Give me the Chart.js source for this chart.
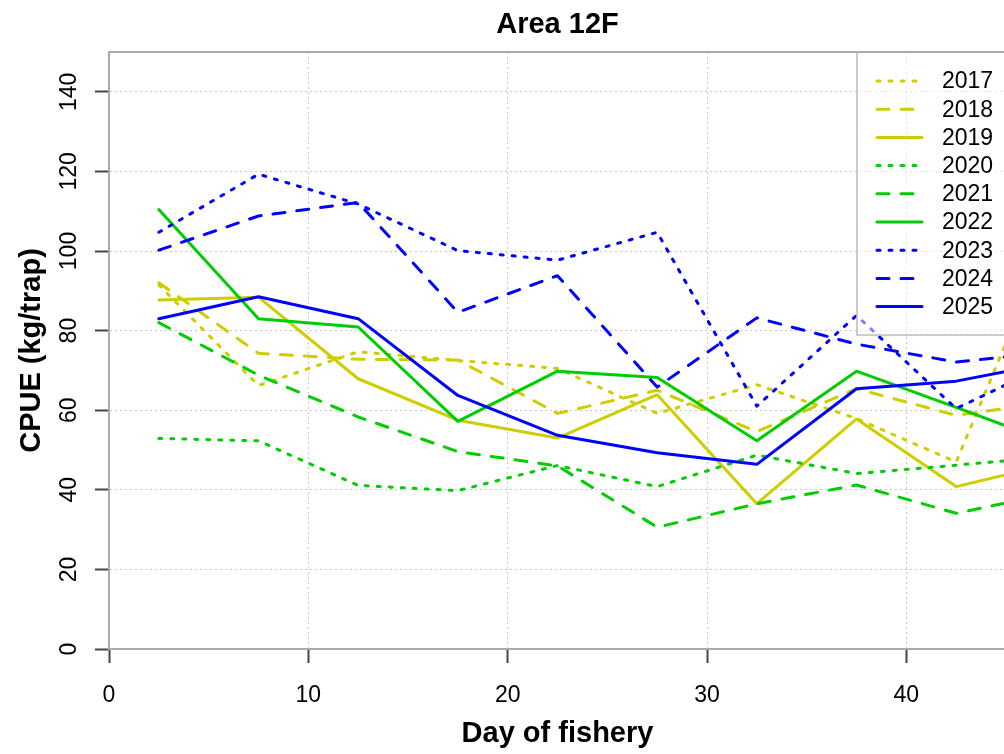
<!DOCTYPE html>
<html lang="en">
<head>
<meta charset="UTF-8">
<title>Area 12F</title>
<script src="https://cdn.jsdelivr.net/npm/chart.js"></script>
<style>
    body { margin: 0; background: #ffffff; overflow: hidden; }
    #wrap { width: 1010px; height: 754px; }
</style>
</head>
<body>
<div id="wrap"><canvas id="cpueChart" width="1010" height="754"></canvas></div>
<script>
// day of fishery (mid-point of each 5-day block)
const days = [2.5, 7.5, 12.5, 17.5, 22.5, 27.5, 32.5, 37.5, 42.5, 47.5];
const years = ['2017', '2018', '2019', '2020', '2021', '2022', '2023', '2024', '2025'];

// CPUE (kg/trap)
const cpue2017 = [91.5, 66.2, 74.7, 72.5, 70.5, 59.2, 66.4, 57.9, 47.0, 106.8];
const cpue2018 = [92.0, 74.3, 72.8, 72.6, 59.2, 65.0, 54.6, 65.4, 58.7, 62.2];
const cpue2019 = [87.7, 88.4, 67.9, 57.5, 53.0, 63.9, 36.5, 57.8, 40.8, 46.8];
const cpue2020 = [52.9, 52.3, 41.1, 39.8, 46.1, 40.8, 48.7, 44.1, 46.2, 48.4];
const cpue2021 = [82.0, 68.8, 58.3, 49.6, 46.0, 30.6, 36.5, 41.2, 34.1, 39.3];
const cpue2022 = [110.4, 83.0, 80.9, 57.2, 69.8, 68.2, 52.3, 69.8, 60.7, 51.4];
const cpue2023 = [104.7, 119.3, 111.8, 100.1, 97.7, 104.7, 61.0, 83.8, 60.4, 72.4];
const cpue2024 = [100.2, 108.8, 112.2, 84.6, 93.8, 65.8, 83.2, 76.6, 72.1, 74.7];
const cpue2025 = [83.0, 88.5, 83.0, 63.7, 53.7, 49.3, 46.4, 65.4, 67.3, 72.1];

const series = [cpue2017, cpue2018, cpue2019, cpue2020, cpue2021, cpue2022, cpue2023, cpue2024, cpue2025];
const lineColors = ['#CDCD00', '#CDCD00', '#CDCD00', '#00CD00', '#00CD00', '#00CD00', '#0000FF', '#0000FF', '#0000FF'];
const lineDashes = [[3, 9], [12, 12], [], [3, 9], [12, 12], [], [3, 9], [12, 12], []];

const xTicks = [0, 10, 20, 30, 40];
const yTicks = [0, 20, 40, 60, 80, 100, 120, 140];

const FONT = '"Liberation Sans", Arial, Helvetica, sans-serif';

const datasets = years.map((yr, i) => ({
    label: yr,
    data: days.map((d, j) => ({ x: d, y: series[i][j] })),
    borderColor: lineColors[i],
    borderWidth: 3,
    borderDash: lineDashes[i],
    borderCapStyle: 'round',
    borderJoinStyle: 'round',
    pointRadius: 0,
    tension: 0,
    fill: false,
    order: years.length - 1 - i
}));

// legend, plot box, tick labels and titles drawn the way base R does it
const decor = {
    id: 'decor',
    afterDatasetsDraw(chart) {
        const { ctx, chartArea: a } = chart;
        // legend box (top right, half transparent)
        const lx = 857, lBottom = 335;
        ctx.save();
        ctx.fillStyle = 'rgba(255,255,255,0.5)';
        ctx.fillRect(lx, a.top, a.right - lx, lBottom - a.top);
        ctx.strokeStyle = '#bbbbbb';
        ctx.lineWidth = 1.5;
        ctx.strokeRect(lx, a.top, a.right - lx, lBottom - a.top);
        ctx.font = '23px ' + FONT;
        ctx.textAlign = 'left';
        ctx.textBaseline = 'middle';
        chart.data.datasets.forEach((ds, i) => {
            const ry = a.top + 29 + i * 28.2;
            ctx.beginPath();
            ctx.strokeStyle = ds.borderColor;
            ctx.lineWidth = 3;
            ctx.lineCap = 'round';
            ctx.setLineDash(ds.borderDash);
            ctx.moveTo(lx + 20, ry);
            ctx.lineTo(lx + 65, ry);
            ctx.stroke();
            ctx.setLineDash([]);
            ctx.fillStyle = '#000000';
            ctx.fillText(ds.label, lx + 85, ry + 1);
        });
        // top and right edges of the box
        ctx.strokeStyle = '#aaaaaa';
        ctx.lineWidth = 2;
        ctx.beginPath();
        ctx.moveTo(a.left, a.top);
        ctx.lineTo(a.right, a.top);
        ctx.lineTo(a.right, a.bottom);
        ctx.stroke();
        ctx.restore();
    },
    afterDraw(chart) {
        const { ctx, chartArea: a, scales: { x, y } } = chart;
        ctx.save();
        ctx.fillStyle = '#000000';
        ctx.font = '23px ' + FONT;
        ctx.textAlign = 'center';
        ctx.textBaseline = 'alphabetic';
        xTicks.forEach(v => ctx.fillText(String(v), x.getPixelForValue(v), 701.5));
        yTicks.forEach(v => {
            ctx.save();
            ctx.translate(76, y.getPixelForValue(v));
            ctx.rotate(-Math.PI / 2);
            ctx.fillText(String(v), 0, 0);
            ctx.restore();
        });
        const cx = (a.left + a.right) / 2;
        ctx.font = 'bold 29px ' + FONT;
        ctx.fillText('Area 12F', cx, 33);
        ctx.fillText('Day of fishery', cx, 742);
        ctx.save();
        ctx.translate(40, (a.top + a.bottom) / 2);
        ctx.rotate(-Math.PI / 2);
        ctx.fillText('CPUE (kg/trap)', 0, 0);
        ctx.restore();
        ctx.restore();
    }
};

const gridStyle = {
    color: '#c8c8c8',
    lineWidth: 1,
    drawTicks: true,
    tickLength: 14,
    tickColor: '#444444',
    tickWidth: 2,
    tickBorderDash: []
};

new Chart(document.getElementById('cpueChart'), {
    type: 'line',
    data: { datasets: datasets },
    options: {
        responsive: false,
        animation: false,
        layout: { padding: { left: 95, top: 52, right: 4, bottom: 91 } },
        plugins: {
            legend: { display: false },
            tooltip: { enabled: false },
            title: { display: false }
        },
        scales: {
            x: {
                type: 'linear',
                min: 0,
                max: 45,
                afterBuildTicks: s => { s.ticks = xTicks.map(v => ({ value: v })); },
                ticks: { display: false },
                grid: gridStyle,
                border: { display: true, color: '#aaaaaa', width: 2, dash: [2, 3] }
            },
            y: {
                type: 'linear',
                min: 0,
                max: 150,
                afterBuildTicks: s => { s.ticks = yTicks.map(v => ({ value: v })); },
                ticks: { display: false },
                grid: gridStyle,
                border: { display: true, color: '#aaaaaa', width: 2, dash: [2, 3] }
            }
        }
    },
    plugins: [decor]
});
</script>
</body>
</html>
